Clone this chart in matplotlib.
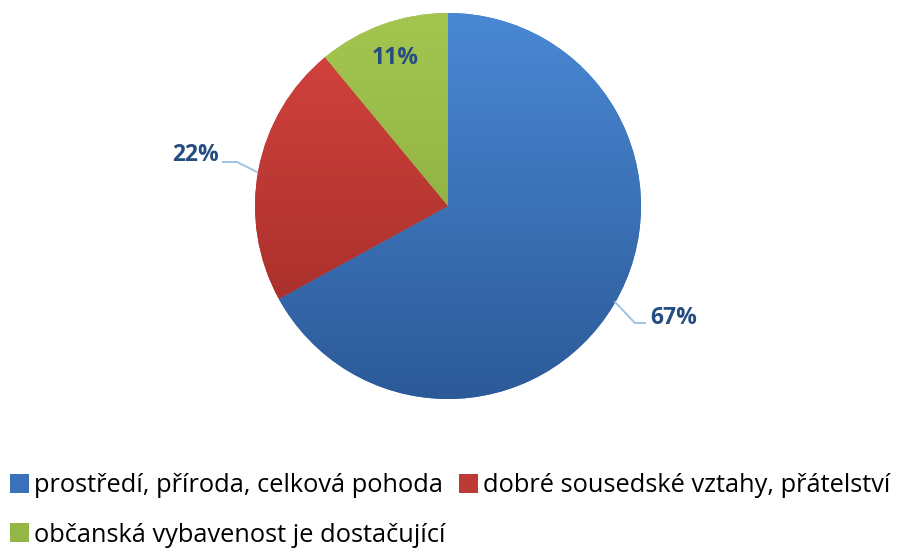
import numpy as np
import matplotlib
matplotlib.use("Agg")
import matplotlib.pyplot as plt
from matplotlib.colors import LinearSegmentedColormap
from matplotlib.patches import Patch

categories = ["prostředí, příroda, celková pohoda",
              "dobré sousedské vztahy, přátelství",
              "občanská vybavenost je dostačující"]
values = [67, 22, 11]
labels = ["67%", "22%", "11%"]

top_colors = ["#4A88D4", "#D6443F", "#A4C650"]
bot_colors = ["#2C5A98", "#9C2A26", "#82A23A"]
mid_colors = ["#3B71B8", "#BE3A36", "#94B646"]

plt.rcParams['font.family'] = ['Open Sans', 'DejaVu Sans']

W, H = 898, 550
fig = plt.figure(figsize=(W / 100, H / 100), dpi=100)
cx, cy, r = 448, 206, 193
ax = fig.add_axes([(cx - r) / W, (H - cy - r) / H, 2 * r / W, 2 * r / H])

wedges, _ = ax.pie(values, startangle=90, counterclock=False, radius=1,
                   colors=mid_colors, wedgeprops=dict(linewidth=0))
ax.set_xlim(-1, 1)
ax.set_ylim(-1, 1)
ax.set_aspect('equal')
ax.axis('off')

grad = np.linspace(1, 0, 256).reshape(-1, 1)
for w, c0, c1 in zip(wedges, top_colors, bot_colors):
    cmap = LinearSegmentedColormap.from_list("g", [c1, c0])
    im = ax.imshow(grad, cmap=cmap, extent=[-1, 1, -1, 1], origin='upper',
                   aspect='auto', zorder=2, vmin=0, vmax=1)
    im.set_clip_path(w)
    w.set_zorder(1)
ax.set_xlim(-1, 1)
ax.set_ylim(-1, 1)

lab_col = "#254D80"
line_col = "#9DC3E6"


def px(x, y):
    return ((x - cx) / r, (cy - y) / r)


# 67% label with leader
pts = [px(615, 302), px(635, 323), px(645, 323)]
ax.plot([p[0] for p in pts], [p[1] for p in pts], color=line_col, lw=1.4,
        zorder=3, clip_on=False)
ax.text(*px(650, 318), labels[0], ha='left', va='center', color=lab_col,
        fontsize=16.5, fontweight='bold', clip_on=False)

# 22% label with leader
pts = [px(257, 172), px(237, 162), px(223, 162)]
ax.plot([p[0] for p in pts], [p[1] for p in pts], color=line_col, lw=1.4,
        zorder=3, clip_on=False)
ax.text(*px(219, 155), labels[1], ha='right', va='center', color=lab_col,
        fontsize=16.5, fontweight='bold', clip_on=False)

# 11% label inside
ax.text(*px(395, 58), labels[2], ha='center', va='center', color=lab_col,
        fontsize=16.5, fontweight='bold', zorder=4)

handles = [Patch(facecolor=mid_colors[i], edgecolor='none') for i in range(3)]
order = [0, 2, 1]
leg = fig.legend([handles[i] for i in order], [categories[i] for i in order],
                 ncol=2, loc='lower left', bbox_to_anchor=(0.0, -0.014),
                 frameon=False, fontsize=18.3, handlelength=0.75, handleheight=0.75,
                 handletextpad=0.2, columnspacing=0.5, labelspacing=0.95,
                 borderaxespad=0.0)

fig.savefig("out.png", dpi=100)
